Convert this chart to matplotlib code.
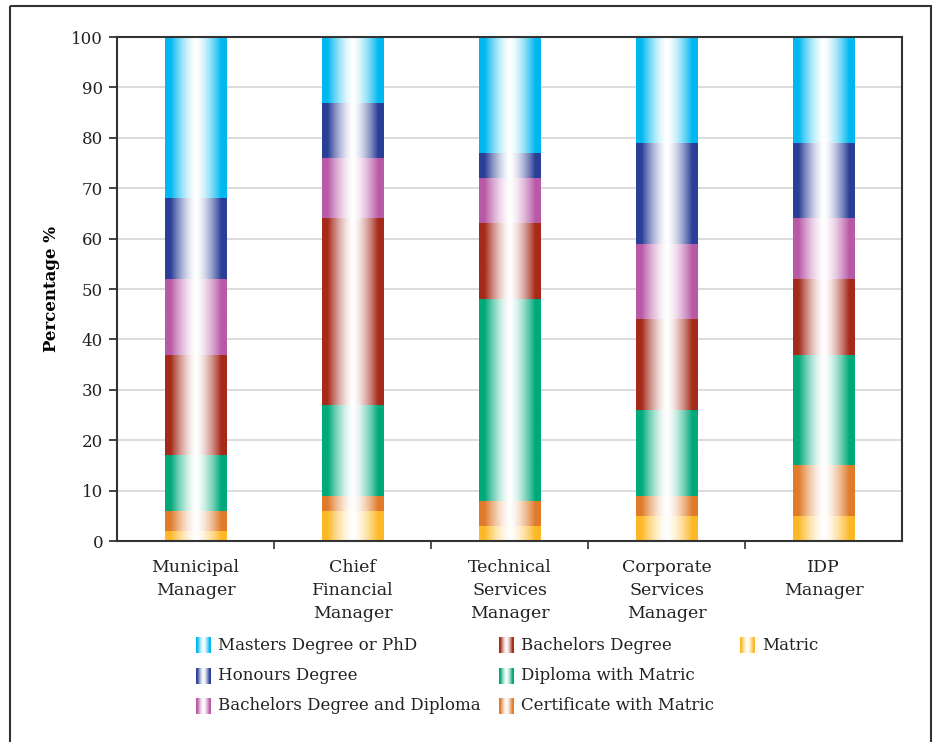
import numpy as np
import matplotlib
matplotlib.use('Agg')
from matplotlib import pyplot as plt
from matplotlib.patches import Rectangle

plt.rcParams['font.family'] = ['DejaVu Serif']

categories = ['Municipal\nManager', 'Chief\nFinancial\nManager', 'Technical\nServices\nManager',
              'Corporate\nServices\nManager', 'IDP\nManager']

# bottom -> top
series = ['Matric', 'Certificate with Matric', 'Diploma with Matric', 'Bachelors Degree',
          'Bachelors Degree and Diploma', 'Honours Degree', 'Masters Degree or PhD']
matric = [2, 6, 3, 5, 5]
certificate = [4, 3, 5, 4, 10]
diploma = [11, 18, 40, 17, 22]
bachelors = [20, 37, 15, 18, 15]
bach_diploma = [15, 12, 9, 15, 12]
honours = [16, 11, 5, 20, 15]
masters = [32, 13, 23, 21, 21]
values = [matric, certificate, diploma, bachelors, bach_diploma, honours, masters]

colors = {'Matric': '#FDB827', 'Certificate with Matric': '#E07B2A',
          'Diploma with Matric': '#00A97A', 'Bachelors Degree': '#A52A1A',
          'Bachelors Degree and Diploma': '#B85AA6', 'Honours Degree': '#2B3F97',
          'Masters Degree or PhD': '#00B8F0'}

# legend order, row by row
legend_rows = [['Masters Degree or PhD', 'Bachelors Degree', 'Matric'],
               ['Honours Degree', 'Diploma with Matric'],
               ['Bachelors Degree and Diploma', 'Certificate with Matric']]


def gradient(color, n=200):
    rgb = np.array(matplotlib.colors.to_rgb(color))
    u = np.linspace(0, 1, n)
    t = np.abs(u - 0.5) * 2
    b = np.clip(t / 0.82, 0, 1) ** 1.5
    img = b[:, None] * rgb[None, :] + (1 - b[:, None]) * np.ones(3)[None, :]
    return img[None, :, :]


fig = plt.figure(figsize=(9.38, 7.42), dpi=100)
ax = fig.add_axes([117 / 938, 1 - 541 / 742, 785 / 938, 504 / 742])

width = 0.39
x = np.arange(len(categories))
bottom = np.zeros(len(categories))
for name, vals in zip(series, values):
    g = gradient(colors[name])
    for i in range(len(categories)):
        if vals[i] > 0:
            ax.imshow(g, extent=[x[i] - width / 2, x[i] + width / 2, bottom[i], bottom[i] + vals[i]],
                      aspect='auto', interpolation='bilinear', zorder=2)
    bottom += np.array(vals)

ax.set_xlim(-0.5, 4.5)
ax.set_ylim(0, 100)
ax.set_yticks(np.arange(0, 101, 10))
ax.yaxis.grid(True, color='#d9d9d9', linewidth=1.3, zorder=0)
ax.set_axisbelow(True)
ax.tick_params(axis='y', labelsize=12, length=6, width=1.2, colors='#222222', pad=4)

ax.set_xticks([0.5, 1.5, 2.5, 3.5])
ax.set_xticklabels([])
ax.tick_params(axis='x', which='major', length=6, width=1.2, color='#333333')
ax.set_xticks(x, minor=True)
ax.set_xticklabels(categories, minor=True, fontsize=12.5, linespacing=1.45, color='#222222')
ax.tick_params(axis='x', which='minor', length=0, pad=13)

for s in ax.spines.values():
    s.set_color('#333333')
    s.set_linewidth(1.5)

ax.set_ylabel('Percentage %', fontsize=12, fontweight='bold', labelpad=8)

# legend drawn by hand (row-wise order)
lax = fig.add_axes([0, 0, 1, 1])
lax.set_xlim(0, 938)
lax.set_ylim(742, 0)
lax.axis('off')
col_x = [196, 499, 740]
row_y = [645, 676, 706]
for r, row in enumerate(legend_rows):
    for c, name in enumerate(row):
        px, py = col_x[c], row_y[r]
        lax.imshow(gradient(colors[name]), extent=[px, px + 15, py + 8, py - 8],
                   aspect='auto', interpolation='bilinear')
        lax.text(px + 22, py, name, fontsize=12, va='center', ha='left', color='#222222')
lax.set_xlim(0, 938)
lax.set_ylim(742, 0)

# outer frame
lax.add_patch(Rectangle((10, 6), 921, 760, fill=False, edgecolor='#333333', linewidth=1.5))

fig.savefig('out.png', dpi=100)
